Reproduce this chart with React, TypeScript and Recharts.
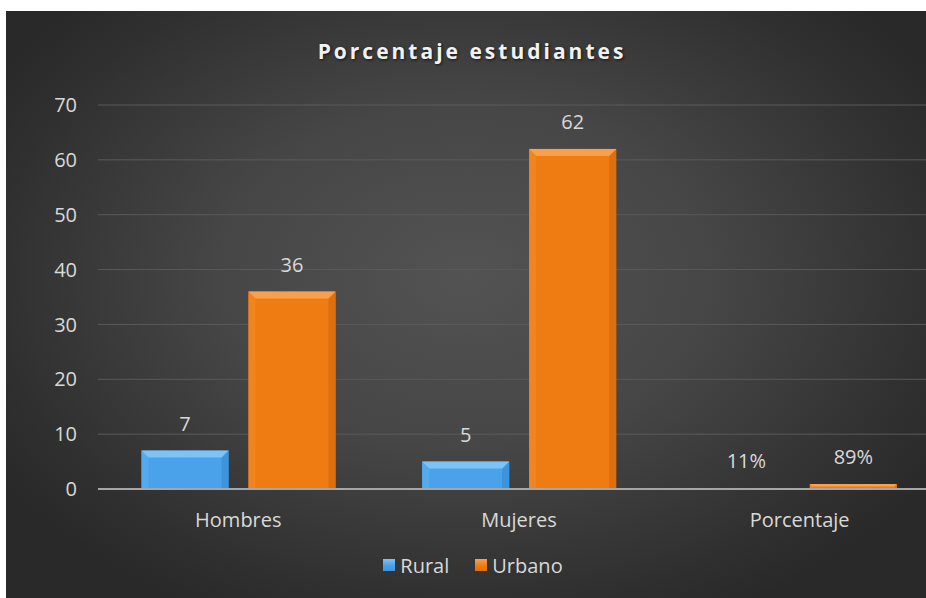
import React from 'react';
import { BarChart, Bar, XAxis, YAxis, CartesianGrid, Legend, LabelList } from 'recharts';

const categories = ['Hombres', 'Mujeres', 'Porcentaje'];
const rural = [7, 5, 0.11];
const urbano = [36, 62, 0.89];
const yTicks = [0, 10, 20, 30, 40, 50, 60, 70];

const data = categories.map((c, i) => ({ name: c, Rural: rural[i], Urbano: urbano[i] }));

const FONT = '"Open Sans", "Noto Sans", sans-serif';

const palettes: Record<string, { body: string; top: string; left: string; right: string; bottom: string }> = {
  Rural: { body: '#4aa2ea', top: '#7fc3f6', left: '#55aaee', right: '#3d93dc', bottom: '#3f95de' },
  Urbano: { body: '#ef7b13', top: '#f9a04c', left: '#f2841f', right: '#de6f0e', bottom: '#e0710f' },
};

const makeShape = (key: string) => (props: any) => {
  const { x, y, width, height } = props;
  if (!(width > 0) || !(height > 0)) return <g />;
  const p = palettes[key];
  const d = Math.min(7, height / 2, width / 2);
  const x2 = x + width;
  const y2 = y + height;
  return (
    <g>
      <rect x={x} y={y} width={width} height={Math.max(height, 1)} fill={p.body} />
      <polygon points={`${x},${y} ${x + d},${y + d} ${x + d},${y2} ${x},${y2}`} fill={p.left} />
      <polygon points={`${x2},${y} ${x2},${y2} ${x2 - d},${y2} ${x2 - d},${y + d}`} fill={p.right} />
      <polygon points={`${x},${y} ${x2},${y} ${x2 - d},${y + d} ${x + d},${y + d}`} fill={p.top} />
    </g>
  );
};

const fmt = (v: any) => (typeof v === 'number' && v < 1 ? `${Math.round(v * 100)}%` : v);

const LegendContent = (props: any) => {
  const { payload } = props;
  return (
    <div style={{ display: 'flex', justifyContent: 'center', alignItems: 'center', height: 30 }}>
      {(payload || []).map((e: any, i: number) => {
        const p = palettes[e.value];
        return (
          <div key={e.value} style={{ display: 'flex', alignItems: 'center', marginLeft: i ? 26 : 0 }}>
            <div
              style={{
                width: 12,
                height: 12,
                background: `linear-gradient(180deg, ${p.top} 0%, ${p.body} 55%, ${p.right} 100%)`,
                marginRight: 5,
              }}
            />
            <span style={{ fontFamily: FONT, fontSize: 20, color: '#d9d9d9' }}>{e.value}</span>
          </div>
        );
      })}
    </div>
  );
};

export default function App() {
  return (
    <div
      style={{
        position: 'absolute',
        left: 6,
        top: 11,
        width: 920,
        height: 587,
        overflow: 'hidden',
        background: 'radial-gradient(ellipse 60% 65% at 50% 45%, #535353 0%, #464646 45%, #303030 85%, #292929 100%)',
      }}
    >
      <div
        style={{
          position: 'absolute',
          left: 0,
          top: 28,
          width: 932,
          textAlign: 'center',
          fontFamily: FONT,
          fontWeight: 700,
          fontSize: 21,
          lineHeight: '24px',
          letterSpacing: 3,
          color: '#f2f2f2',
          textShadow: '1px 1px 3px rgba(0,0,0,0.7)',
          zIndex: 2,
        }}
      >
        Porcentaje estudiantes
      </div>
      <BarChart
        width={960}
        height={587}
        data={data}
        margin={{ top: 94, right: 26, bottom: 49, left: 32 }}
        barCategoryGap="15.5%"
        barGap={20}
      >
        <CartesianGrid vertical={false} stroke="#5a5a5a" strokeWidth={1} />
        <XAxis
          dataKey="name"
          height={30}
          axisLine={{ stroke: '#a6a6a6', strokeWidth: 2 }}
          tickLine={false}
          tickSize={0}
          tickMargin={24}
          tick={{ fill: '#d9d9d9', fontSize: 20, fontFamily: FONT }}
        />
        <YAxis
          width={60}
          domain={[0, 70]}
          ticks={yTicks}
          interval={0}
          axisLine={false}
          tickLine={false}
          tickSize={0}
          tickMargin={21}
          tick={{ fill: '#d9d9d9', fontSize: 20, fontFamily: FONT }}
        />
        <Legend
          content={<LegendContent />}
          wrapperStyle={{ top: 539, left: 0, width: 934, height: 30 }}
        />
        <Bar dataKey="Rural" fill="#4aa2ea" shape={makeShape('Rural')} isAnimationActive={false}>
          <LabelList dataKey="Rural" position="top" offset={20} formatter={fmt} fill="#d9d9d9" fontSize={20} fontFamily={FONT} />
        </Bar>
        <Bar dataKey="Urbano" fill="#ef7b13" shape={makeShape('Urbano')} isAnimationActive={false}>
          <LabelList dataKey="Urbano" position="top" offset={20} formatter={fmt} fill="#d9d9d9" fontSize={20} fontFamily={FONT} />
        </Bar>
      </BarChart>
    </div>
  );
}
